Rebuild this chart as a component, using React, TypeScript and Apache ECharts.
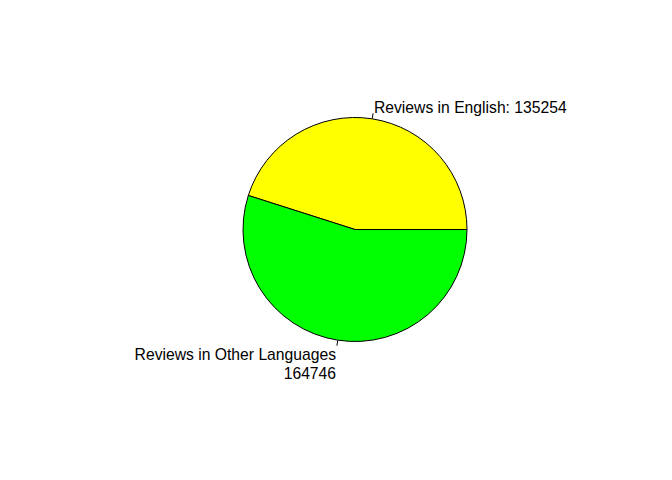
import React, { useEffect, useRef } from "react";
import * as echarts from "echarts";

const categories = ["Reviews in English", "Reviews in Other Languages"];
const values = [135254, 164746];
const labelSeparators = [": ", "\n"];
const colors = ["#FFFF00", "#00FF00"];

const CX = 355;
const CY = 229.5;
const R = 112;

export default function App() {
  const ref = useRef<HTMLDivElement>(null);
  useEffect(() => {
    if (!ref.current) return;
    const chart = echarts.init(ref.current, null, { renderer: "svg" });
    const total = values.reduce((a, b) => a + b, 0);
    const midAngles: number[] = [];
    let acc = 0;
    values.forEach((v) => {
      const a0 = (acc / total) * 2 * Math.PI;
      acc += v;
      const a1 = (acc / total) * 2 * Math.PI;
      midAngles.push((a0 + a1) / 2);
    });
    chart.setOption({
      animation: false,
      backgroundColor: "#ffffff",
      series: [
        {
          type: "pie",
          center: [CX, CY],
          radius: R,
          startAngle: 0,
          clockwise: false,
          avoidLabelOverlap: false,
          data: categories.map((c, i) => ({
            name: c,
            value: values[i],
            itemStyle: { color: colors[i] },
          })),
          itemStyle: { borderColor: "#000000", borderWidth: 1 },
          emphasis: { disabled: true },
          label: {
            show: true,
            position: "outside",
            formatter: (p: any) => p.name + labelSeparators[p.dataIndex] + p.value,
            fontFamily: "Liberation Sans, Arial, sans-serif",
            fontSize: 15.7,
            lineHeight: 19,
            color: "#000000",
          },
          labelLine: {
            show: true,
            length: 6,
            length2: 0,
            lineStyle: { color: "#000000", width: 1 },
          },
          labelLayout: (params: any) => {
            const a = midAngles[params.dataIndex];
            const c = Math.cos(a);
            const s = Math.sin(a);
            const lines = (categories[params.dataIndex] + labelSeparators[params.dataIndex]).split("\n").length;
            const lx = CX + 1.1 * R * c;
            let ly = CY - 1.1 * R * s;
            if (lines > 1) ly += 13;
            return {
              x: lx,
              y: ly,
              align: c >= 0 ? "left" : "right",
              verticalAlign: "middle",
              labelLinePoints: [
                [CX + R * c, CY - R * s],
                [CX + 1.05 * R * c, CY - 1.05 * R * s],
              ],
            };
          },
        },
      ],
    });
    return () => chart.dispose();
  }, []);
  return (
    <div
      ref={ref}
      style={{ position: "fixed", left: 0, top: 0, width: 672, height: 480 }}
    />
  );
}
